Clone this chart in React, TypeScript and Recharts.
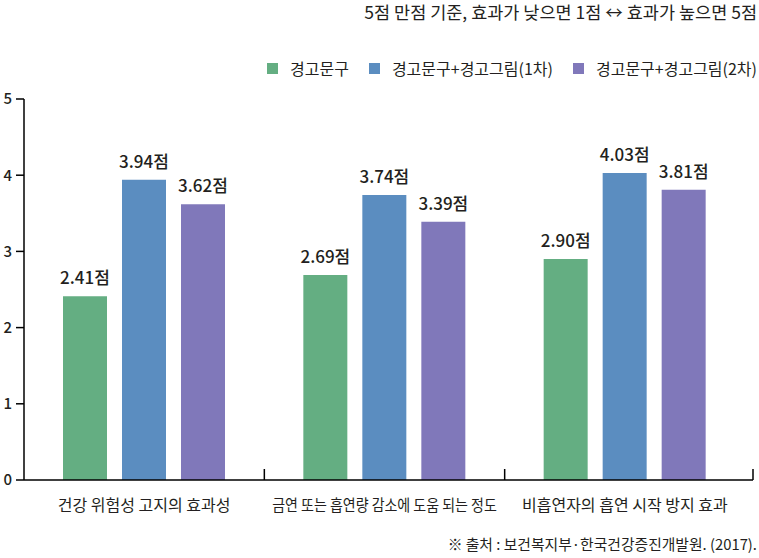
import React from 'react';
import { BarChart, Bar, XAxis, YAxis, LabelList } from 'recharts';

const categories = ['건강 위험성 고지의 효과성', '금연 또는 흡연량 감소에 도움 되는 정도', '비흡연자의 흡연 시작 방지 효과'];
const warningText = [2.41, 2.69, 2.9];
const warningImage1 = [3.94, 3.74, 4.03];
const warningImage2 = [3.62, 3.39, 3.81];
const seriesNames = ['경고문구', '경고문구+경고그림(1차)', '경고문구+경고그림(2차)'];
const seriesKeys = ['s1', 's2', 's3'];
const seriesColors = ['#64AE82', '#5B8DC0', '#8078BA'];
const yTicks = [0, 1, 2, 3, 4, 5];
const titleText = '5점 만점 기준, 효과가 낮으면 1점 ↔ 효과가 높으면 5점';
const sourceText = '※ 출처 : 보건복지부·한국건강증진개발원. (2017).';

const data = categories.map((c, i) => ({
  name: c,
  s1: warningText[i],
  s2: warningImage1[i],
  s3: warningImage2[i],
}));

const FONT = '"Noto Sans CJK KR", "Noto Sans", sans-serif';
const TEXT = '#231f20';

const CHART_W = 759;
const MARGIN = { top: 99, right: 6, bottom: 48, left: 0 };
const Y_W = 24;
const PAD_R = 8;
const TICK_SIZE = 6;
const TICK_MARGIN = 2;
const BAND = (CHART_W - MARGIN.right - MARGIN.left - Y_W - PAD_R) / categories.length;
const LABEL_SQUEEZE = [1, 0.875, 1];

const CatTick = (props: any) => {
  const { x, y, payload, index } = props;
  const axisY = y - TICK_SIZE - TICK_MARGIN;
  const isLast = index === categories.length - 1;
  const bx = x + BAND / 2 + (isLast ? PAD_R : 0);
  const s = LABEL_SQUEEZE[index] ?? 1;
  return (
    <g>
      <line x1={bx} x2={bx} y1={axisY} y2={axisY - 11} stroke="#000" strokeWidth={1.5} />
      <g transform={`translate(${x},${y + 23}) scale(${s},1)`}>
        <text x={0} y={0} textAnchor="middle" fontSize={16} fill={TEXT} fontFamily={FONT}>
          {payload.value}
        </text>
      </g>
    </g>
  );
};

export default function App() {
  return (
    <div style={{ position: 'absolute', left: 0, top: 0, width: 759, height: 558, background: '#fff', fontFamily: FONT, color: TEXT }}>
      <div style={{ position: 'absolute', right: 2, top: -1, fontSize: 17.5, whiteSpace: 'nowrap' }}>{titleText}</div>
      <div style={{ position: 'absolute', right: 2, top: 56, display: 'flex', alignItems: 'center', fontSize: 16, whiteSpace: 'nowrap' }}>
        {seriesNames.map((n, i) => (
          <div key={n} style={{ display: 'flex', alignItems: 'center', marginLeft: i === 0 ? 0 : 20 }}>
            <span style={{ display: 'inline-block', width: 11, height: 11, background: seriesColors[i], marginRight: 12 }} />
            <span>{n}</span>
          </div>
        ))}
      </div>
      <div style={{ position: 'absolute', left: 0, top: 0 }}>
        <BarChart width={CHART_W} height={558} data={data} margin={MARGIN} barSize={44} barGap={15}>
          <XAxis
            dataKey="name"
            height={30}
            axisLine={{ stroke: '#000', strokeWidth: 1.5 }}
            tickLine={false}
            tickSize={TICK_SIZE}
            tickMargin={TICK_MARGIN}
            tick={<CatTick />}
            interval={0}
            padding={{ left: 0, right: PAD_R }}
          />
          <YAxis
            width={Y_W}
            domain={[0, 5]}
            ticks={yTicks}
            interval={0}
            axisLine={{ stroke: '#000', strokeWidth: 1.5 }}
            tickLine={{ stroke: '#000', strokeWidth: 1.5 }}
            tickSize={8}
            tickMargin={4}
            tick={{ fontSize: 15, fill: TEXT, fontFamily: FONT, fontWeight: 500 }}
          />
          {seriesKeys.map((k, i) => (
            <Bar key={k} dataKey={k} name={seriesNames[i]} fill={seriesColors[i]} isAnimationActive={false}>
              <LabelList
                dataKey={k}
                position="top"
                offset={12}
                formatter={(v: any) => `${Number(v).toFixed(2)}점`}
                style={{ fontSize: 17, fill: TEXT, fontFamily: FONT, fontWeight: 500 }}
              />
            </Bar>
          ))}
        </BarChart>
      </div>
      <div style={{ position: 'absolute', right: 2, top: 533, fontSize: 14.8, whiteSpace: 'nowrap' }}>{sourceText}</div>
    </div>
  );
}
